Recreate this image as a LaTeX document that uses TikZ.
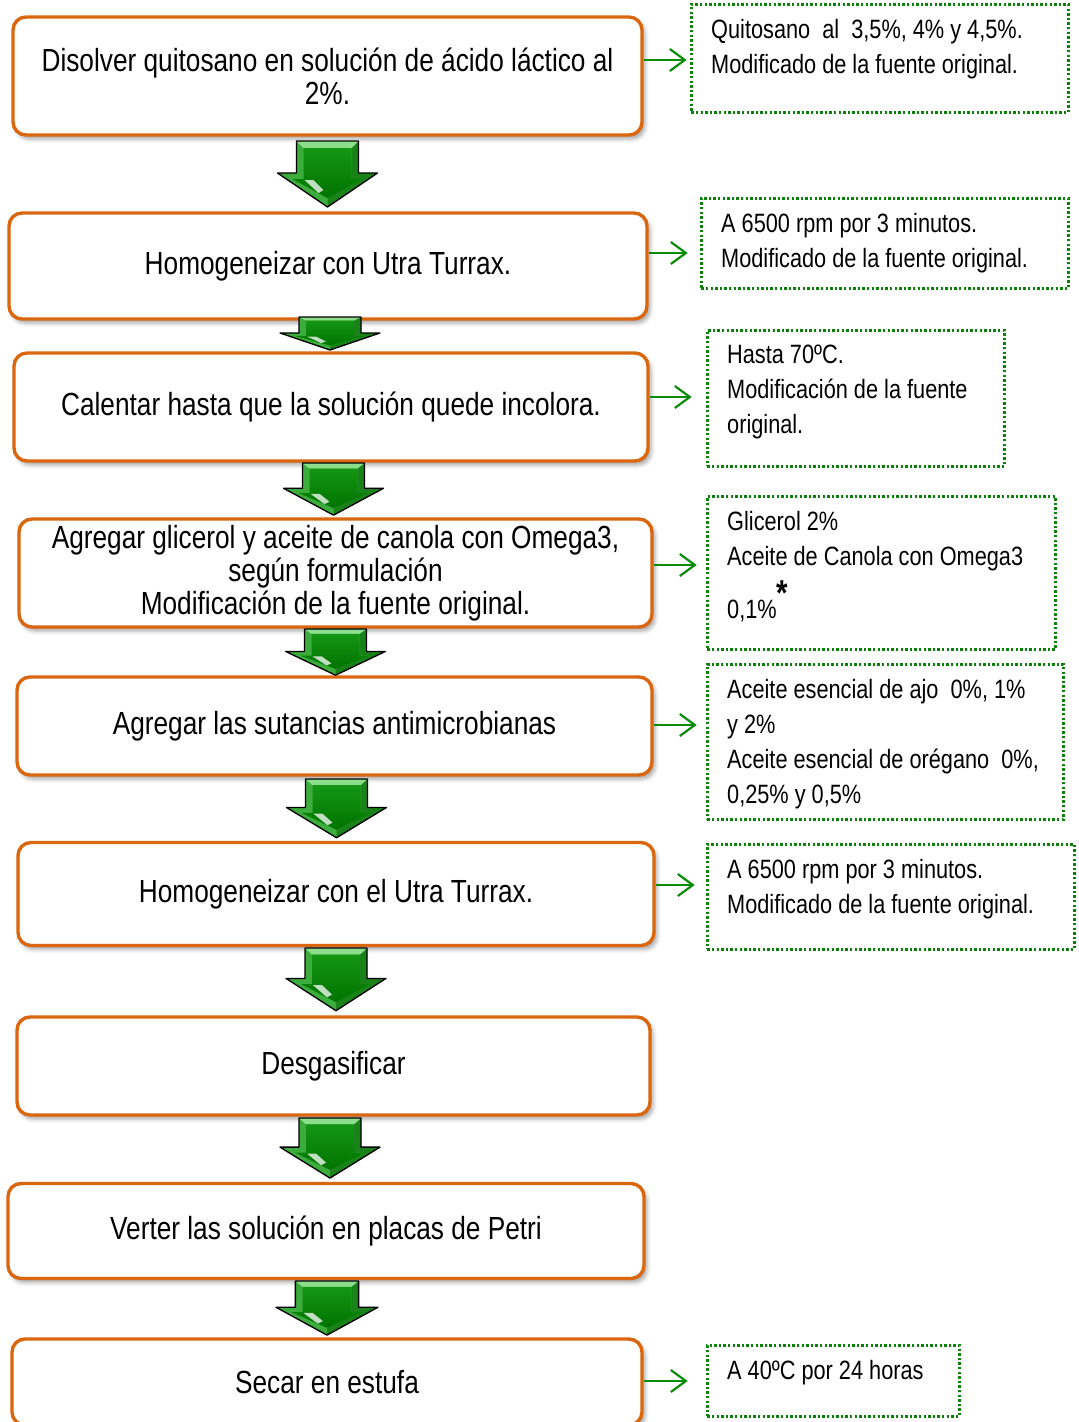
\documentclass[tikz,border=0pt]{standalone}
\usepackage{fontspec}
\setmainfont{Liberation Sans}[FakeStretch=0.82]
\usetikzlibrary{arrows.meta,shadows.blur}

\definecolor{boxorange}{RGB}{218,102,14}
\definecolor{notegreen}{RGB}{10,130,10}
\definecolor{arrowgreen}{RGB}{10,140,10}
\definecolor{gmid}{RGB}{60,172,60}
\definecolor{glight}{RGB}{140,222,140}
\definecolor{gdark}{RGB}{25,130,25}
\definecolor{gfacetop}{RGB}{20,150,20}
\definecolor{gfacebot}{RGB}{0,115,0}

\newcommand\mainsize{\fontsize{32}{33}\selectfont}
\newcommand\notesize{\fontsize{26.5}{35}\selectfont}

\tikzset{
  stepbox/.style={draw=boxorange, line width=3.4pt, rounded corners=13pt,
    fill=white, align=center, font=\mainsize, inner sep=0pt,
    blur shadow={shadow xshift=3pt, shadow yshift=-4pt,
                 shadow blur radius=4pt, shadow opacity=35}},
  notebox/.style={draw=notegreen, line width=2.6pt,
    dash pattern=on 2.4pt off 2.2pt, inner sep=0pt, anchor=north west},
  notetext/.style={align=left, font=\notesize, inner sep=0pt, anchor=north west},
  sidearrow/.style={draw=arrowgreen, line width=2.2pt,
    -{Straight Barb[length=15pt,width=22pt]}},
  pics/bigdown/.style={code={
    % body of the bevelled block arrow
    \fill[gmid] (-31,0) -- (31,0) -- (31,32) -- (50,32) -- (0,66)
                -- (-50,32) -- (-31,32) -- cycle;
    % darker right-hand bevel
    \fill[gdark] (31,0) -- (31,32) -- (50,32) -- (0,66) -- (0,57)
                 -- (35,38) -- (24,38) -- (24,7) -- cycle;
    % light top bevel
    \fill[glight] (-31,0) -- (31,0) -- (24,7) -- (-24,7) -- cycle;
    % front face
    \shade[top color=gfacetop, bottom color=gfacebot]
      (-24,7) -- (24,7) -- (24,38) -- (35,38) -- (0,57)
      -- (-35,38) -- (-24,38) -- cycle;
    % glossy highlight
    \fill[white, opacity=0.75] (-23,39) -- (-14,39) -- (-4,49) -- (-9,52) -- cycle;
    \draw[black, line width=1.3pt, line join=round]
      (-31,0) -- (31,0) -- (31,32) -- (50,32) -- (0,66)
      -- (-50,32) -- (-31,32) -- cycle;
  }},
}

\begin{document}
\begin{tikzpicture}[x=1pt, y=-1pt]
\useasboundingbox (0,0) rectangle (1079,1422);

% process steps
\node[stepbox, minimum width=629pt, minimum height=118pt] (b1) at (327.5,76)
  {Disolver quitosano en solución de ácido láctico al\\2\%.};
\node[stepbox, minimum width=638pt, minimum height=106pt] (b2) at (328,266)
  {Homogeneizar con Utra Turrax.};
\node[stepbox, minimum width=634pt, minimum height=108pt] (b3) at (331,407)
  {Calentar hasta que la solución quede incolora.};
\node[stepbox, minimum width=633pt, minimum height=108pt] (b4) at (335.5,573)
  {Agregar glicerol y aceite de canola con Omega3,\\según formulación\\Modificación de la fuente original.};
\node[stepbox, minimum width=635pt, minimum height=98pt] (b5) at (334.5,726)
  {Agregar las sutancias antimicrobianas};
\node[stepbox, minimum width=636pt, minimum height=103pt] (b6) at (336,894)
  {Homogeneizar con el Utra Turrax.};
\node[stepbox, minimum width=633pt, minimum height=98pt] (b7) at (333.5,1066)
  {Desgasificar};
\node[stepbox, minimum width=636pt, minimum height=95pt] (b8) at (326,1231)
  {Verter las solución en placas de Petri};
\node[stepbox, minimum width=630pt, minimum height=86pt] (b9) at (327,1382)
  {Secar en estufa};

% block arrows between the steps
\pic at (327.5,141) {bigdown};
\pic[yscale=0.5] at (330,317) {bigdown};
\pic[yscale=0.79] at (333.5,463) {bigdown};
\pic[yscale=0.70] at (335.5,629) {bigdown};
\pic[yscale=0.89] at (336.5,779) {bigdown};
\pic[yscale=0.95] at (336,948) {bigdown};
\pic[yscale=0.91] at (330,1118) {bigdown};
\pic[xscale=1.02, yscale=0.82] at (327,1281) {bigdown};

% side notes
\node[notebox, minimum width=377pt, minimum height=108pt] (n1) at (690,3) {};
\node[notetext] (t1) at ([xshift=21pt, yshift=-16pt]n1.north west)
  {Quitosano\ \ al\ \ 3,5\%, 4\% y 4,5\%.\\Modificado de la fuente original.};
\node[notebox, minimum width=367pt, minimum height=90pt] (n2) at (700,197) {};
\node[notetext] (t2) at ([xshift=21pt, yshift=-16pt]n2.north west)
  {A 6500 rpm por 3 minutos.\\Modificado de la fuente original.};
\node[notebox, minimum width=297pt, minimum height=136pt] (n3) at (706,329) {};
\node[notetext] (t3) at ([xshift=21pt, yshift=-16pt]n3.north west)
  {Hasta 70ºC.\\Modificación de la fuente\\original.};
\node[notebox, minimum width=348pt, minimum height=153pt] (n4) at (706,495) {};
\node[notetext] (t4) at ([xshift=21pt, yshift=-16pt]n4.north west)
  {Glicerol 2\%\\Aceite de Canola con Omega3\\[9pt]0,1\%\raisebox{13pt}{\fontsize{36}{36}\selectfont\bfseries *}};
\node[notebox, minimum width=356pt, minimum height=155pt] (n5) at (706,663) {};
\node[notetext] (t5) at ([xshift=21pt, yshift=-16pt]n5.north west)
  {Aceite esencial de ajo\ \ 0\%, 1\%\\y 2\%\\Aceite esencial de orégano\ \ 0\%,\\0,25\% y 0,5\%};
\node[notebox, minimum width=367pt, minimum height=105pt] (n6) at (706,843) {};
\node[notetext] (t6) at ([xshift=21pt, yshift=-16pt]n6.north west)
  {A 6500 rpm por 3 minutos.\\Modificado de la fuente original.};
\node[notebox, minimum width=252pt, minimum height=71pt] (n9) at (706,1344) {};
\node[notetext] (t9) at ([xshift=21pt, yshift=-16pt]n9.north west)
  {A 40ºC por 24 horas};

% links from the steps to their notes
\draw[sidearrow] (b1.east |- 0,60) -- ++(43,0);
\draw[sidearrow] (b2.east |- 0,253) -- ++(39,0);
\draw[sidearrow] (b3.east |- 0,397) -- ++(42,0);
\draw[sidearrow] (b4.east |- 0,565) -- ++(43,0);
\draw[sidearrow] (b5.east |- 0,725) -- ++(43,0);
\draw[sidearrow] (b6.east |- 0,885) -- ++(39,0);
\draw[sidearrow] (b9.east |- 0,1381) -- ++(44,0);
\end{tikzpicture}
\end{document}
